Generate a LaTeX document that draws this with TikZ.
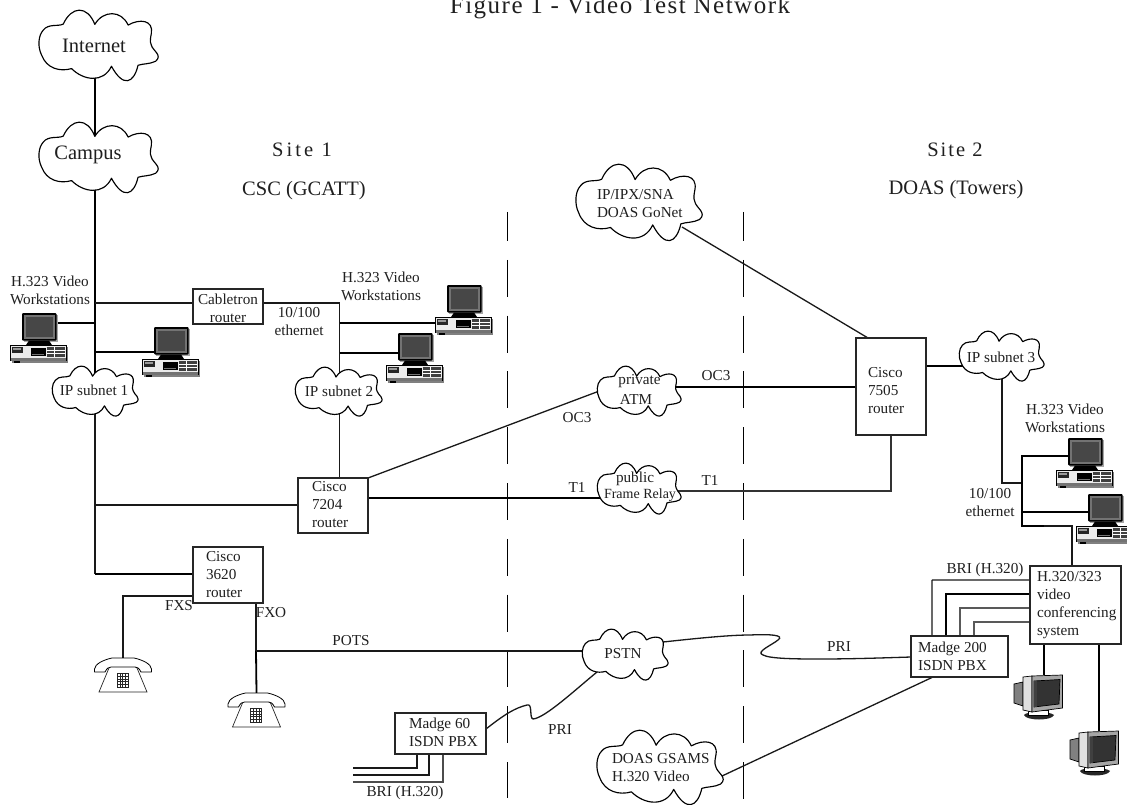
\documentclass[tikz,border=0pt]{standalone}
\usepackage{fontspec}
\setmainfont{Liberation Serif}
\pgfdeclarelayer{background}
\pgfsetlayers{background,main}
\tikzset{
  lab/.style={inner sep=0pt,outer sep=0pt,align=left,font=\fontsize{15.2}{18}\selectfont,text=black!88},
  biglab/.style={lab,font=\fontsize{20.5}{24}\selectfont},
  netbox/.style={draw=black!85,line width=1.3pt,fill=white,inner sep=0pt,outer sep=0pt},
  ghost/.style={inner sep=0pt,outer sep=0pt},
  cloudline/.style={draw=black,line width=1.15pt,fill=white,line join=round},
  tk/.style={line width=1.8pt,draw=black},
  md/.style={line width=1.3pt,draw=black!90},
  tn/.style={line width=1.05pt,draw=black!80},
  sitedash/.style={line width=1pt,draw=black,dash pattern=on 37pt off 18.8pt,dash phase=8pt},
  pics/workstation/.style={code={
    \node[ghost,minimum width=35pt,minimum height=28pt] (-mon) at (17.5,14) {};
    \fill[black!35] (2,2) rectangle (36,29);
    \fill[black,rounded corners=1pt] (0,0) rectangle (34.5,27.5);
    \fill[black!55] (1.5,1.5) rectangle (33,26);
    \fill[black!72] (3.5,3.5) rectangle (31,24);
    \fill[black] (7,27.5) -- (27,27.5) -- (30,32) -- (4,32) -- cycle;
    \fill[black!50] (-10,34) rectangle (45.5,50);
    \fill[black!8,draw=black,line width=.5pt] (-11.5,32.5) rectangle (44,47.5);
    \fill[black!85] (-10.5,33.5) rectangle (1,40);
    \fill[black!40] (-9,35) rectangle (-1,37);
    \fill[black] (9,35) rectangle (23.5,43);
    \fill[black!55] (10,41) rectangle (22,42);
    \fill[black!75] (25,33.5) rectangle (43,44);
    \draw[white,line width=.5pt] (25,37) -- (43,37) (25,40.5) -- (43,40.5) (32,33.5) -- (32,44);
    \fill[black!55] (-11.5,44.5) rectangle (44,47.5);
    \fill[black] (-8,47.5) rectangle (-2,50);
  }},
  pics/crt/.style={code={
    \node[ghost,minimum width=49pt,minimum height=45pt] (-mon) at (24.5,22) {};
    \fill[black!85] (10,40) .. controls (12,36) and (36,36) .. (40,40) .. controls (38,46) and (12,46) .. (10,40) -- cycle;
    \fill[white,draw=black,line width=.4pt] (14,35) rectangle (34,40);
    \fill[black!50,draw=black,line width=.7pt] (0,9) -- (9,7) -- (9,31) -- (0,28) -- cycle;
    \fill[black!12,draw=black,line width=.7pt] (9,2) -- (18,1) -- (18,37) -- (9,35) -- cycle;
    \fill[black!35,draw=black,line width=.7pt] (18,1) -- (48.5,0) -- (48.5,33) -- (18,37) -- cycle;
    \fill[black!80,draw=black,line width=.7pt] (20,6) -- (46,4.5) -- (45,29) -- (20,32) -- cycle;
    \fill[black!75] (20,6) rectangle (23,32);
  }},
  pics/telephone/.style={code={
    \node[ghost,minimum width=56pt,minimum height=34pt] (-set) at (0,17) {};
    \draw[line width=.7pt,draw=black!85] (-14,10) -- (-24,34) -- (24,34) -- (14,10);
    \draw[line width=.8pt,draw=black,fill=white,line join=round] (-11,0) -- (11,0) .. controls (20,2) and (28,6) .. (28.5,11) -- (28.5,14) -- (18,14) .. controls (16,10) and (14,9) .. (12,9) -- (-12,9) .. controls (-14,9) and (-16,10) .. (-18,14) -- (-28.5,14) -- (-28.5,11) .. controls (-28,6) and (-20,2) .. (-11,0) -- cycle;
    \draw[line width=.55pt,draw=black!85,fill=white] (-6,15.5) rectangle (5.2,29);
    \foreach \gx in {-3.2,-.4,2.4}{\draw[line width=.55pt,draw=black!85] (\gx,15.5) -- (\gx,29);}
    \foreach \gy in {18.2,20.9,23.6,26.3}{\draw[line width=.55pt,draw=black!85] (-6,\gy) -- (5.2,\gy);}
  }}
}
\newcommand{\netcloud}[5]{%
  \pgfmathsetmacro{\cxs}{#4/355}\pgfmathsetmacro{\cys}{#5/215}%
  \begin{scope}[shift={(#2,#3)},xscale=\cxs,yscale=\cys,shift={(-120,-30)}]
    \path[cloudline] (190,72) .. controls (215,18) and (262,15) .. (285,73)
      .. controls (310,30) and (365,30) .. (385,75)
      .. controls (420,55) and (462,60) .. (455,100)
      .. controls (450,125) and (452,130) .. (455,135)
      .. controls (458,150) and (490,165) .. (468,183)
      .. controls (450,192) and (430,190) .. (415,195)
      .. controls (402,250) and (370,262) .. (335,198)
      .. controls (310,250) and (250,240) .. (215,205)
      .. controls (180,215) and (140,205) .. (125,165)
      .. controls (112,140) and (115,105) .. (130,90)
      .. controls (145,70) and (175,80) .. (190,72) -- cycle;
  \end{scope}
  \node[ghost,minimum width={(#4)*1pt},minimum height={(#5)*1pt}] (#1) at ({#2+(#4)/2},{#3+(#5)/2}) {};%
}
\newcommand{\netbox}[5]{%
  \node[netbox,minimum width={(#4-#2)*1pt},minimum height={(#5-#3)*1pt}] (#1) at ({(#2+#4)/2},{(#3+#5)/2}) {};%
}
\begin{document}
\begin{tikzpicture}[x=1pt,y=-1pt]
\useasboundingbox (0,0) rectangle (1127,805);
% ---- nodes: clouds
\netcloud{internet}{40}{10}{118}{72}
\netcloud{campus}{40}{122}{118}{72}
\netcloud{ipone}{53}{366}{85}{51}
\netcloud{iptwo}{296}{367}{86}{50}
\netcloud{ipthree}{960}{331}{84}{51}
\netcloud{gonet}{577}{164}{125}{78}
\netcloud{atm}{598}{366}{83}{51}
\netcloud{frame}{598}{463}{83}{52}
\netcloud{pstn}{583}{629}{85}{52}
\netcloud{gsams}{598}{730}{125}{76}
% ---- nodes: boxes
\netbox{cabletron}{193}{289}{263}{324}
\netbox{ciscoa}{298}{478}{368}{533}
\netbox{ciscob}{193}{547}{263}{603}
\netbox{ciscoc}{856}{338}{926}{435}
\netbox{madgea}{395}{713}{486}{754}
\netbox{madgeb}{911}{636}{1008}{677}
\netbox{vcs}{1030}{566}{1121}{644}
% ---- equipment icons
\pic (wsa) at (22,313) {workstation};
\pic (wsb) at (154,327) {workstation};
\pic (wsc) at (447,285) {workstation};
\pic (wsd) at (398,333) {workstation};
\pic (wse) at (1068,438) {workstation};
\pic (wsf) at (1088,494) {workstation};
\pic (crta) at (1014,675) {crt};
\pic (crtb) at (1070,731) {crt};
\pic (phonea) at (123,658) {telephone};
\pic (phoneb) at (256.5,693) {telephone};
% ---- free ends and junctions
\coordinate (trunk) at (95,0);
\coordinate (eth) at (339.5,0);
\coordinate (ethr) at (1022,0);
\coordinate (sa) at (507,212);
\coordinate (sb) at (507,798);
\coordinate (sc) at (743,212);
\coordinate (sd) at (743,805);
\coordinate (brione) at (353,768);
\coordinate (britwo) at (353,775);
\coordinate (brithree) at (353,782);
\coordinate (pstnE) at (663,642);
\coordinate (pstnS) at (597,672);
\coordinate (madgeaE) at (486,729);
\coordinate (gsamsE) at (722,776);
\coordinate (gonetE) at (682,227);
% ---- connectors
\begin{pgfonlayer}{background}
\draw[sitedash] (sa) -- (sb);
\draw[sitedash] (sc) -- (sd);
\draw[tk] (trunk |- internet.center) -- (trunk |- campus.center);
\draw[tk] (trunk |- campus.center) -- (trunk |- ipone.center);
\draw[md] (trunk |- ipone.center) -- (trunk |- 0,574);
\draw[md] (trunk |- 0,303) -- (cabletron.west |- 0,303);
\draw[tk] (wsa-mon.east |- 0,323) -- (trunk |- 0,323);
\draw[tk] (trunk |- 0,352) -- (wsb-mon.west |- 0,352);
\draw[md] (trunk |- 0,505) -- (ciscoa.west |- 0,505);
\draw[tk] (trunk |- 0,574) -- (ciscob.west |- 0,574);
\draw[md] (cabletron.east |- 0,303) -- (eth |- 0,303) -- (eth |- iptwo.center);
\draw[tk] (eth |- 0,323) -- (wsc-mon.west |- 0,323) -- ++(10,0);
\draw[tk] (eth |- 0,353) -- (wsd-mon.west |- 0,353);
\draw[md] (eth |- iptwo.center) -- (eth |- ciscoa.north);
\draw[md] (ciscoa.north east) -- (atm.center -| 598,396);
\draw[tk] (ciscoa.east |- 0,498) -- (frame.center |- 0,498);
\draw[tn] (frame.center |- 0,491) -- (891,491) -- (891,0 |- ciscoc.south);
\draw[tk] (atm.center |- 0,387) -- (ciscoc.west |- 0,387);
\draw[md] (gonetE) -- (868,0 |- ciscoc.north);
\draw[tk] (ciscoc.east |- 0,366) -- (ipthree.center |- 0,366);
\draw[md] (1002,0 |- ipthree.center) -- (1002,483) -- (ethr |- 0,483);
\draw[tk] (wse-mon.west |- 0,456) -- (ethr |- 0,456) -- (ethr |- 0,526) -- (1044,526);
\draw[md] (1044,526) -- (1072,526) -- (1072,0 |- vcs.north);
\draw[tk] (ethr |- 0,512) -- (wsf-mon.west |- 0,512);
\draw[md] (ciscob.west |- 0,596) -- (phonea-set.north |- 0,596) -- (phonea-set.north);
\draw[md] (256,0 |- ciscob.south) -- (256,651);
\draw[tk] (256,651) -- (phoneb-set.north);
\draw[md] (256,651) -- (pstn.center |- 0,651);
\draw[md,rounded corners=.5pt] (vcs.west |- 0,580) -- (932,580) -- (932,0 |- madgeb.north);
\draw[tk,line width=1.4pt] (vcs.west |- 0,594) -- (946,594) -- (946,0 |- madgeb.north);
\draw[tn,draw=black!65] (vcs.west |- 0,608) -- (960,608) -- (960,0 |- madgeb.north);
\draw[tn,draw=black!65] (vcs.west |- 0,622) -- (974,622) -- (974,0 |- madgeb.north);
\draw[tk] (1044,0 |- vcs.south) -- (1044,0 |- crta-mon.north);
\draw[tk] (1099,0 |- vcs.south) -- (1099,0 |- crtb-mon.north);
\draw[md] (417,0 |- madgea.south) -- (417,768) -- (brione);
\draw[md] (429,0 |- madgea.south) -- (429,775) -- (britwo);
\draw[md,draw=black!70] (443,0 |- madgea.south) -- (443,782) -- (brithree);
\draw[md] (pstnE) .. controls (700,638) and (730,635) .. (750,635) .. controls (770,634) and (785,635) .. (778,640) .. controls (772,645) and (755,652) .. (763,655) .. controls (770,659) and (800,659) .. (820,659) .. controls (850,659) and (880,658) .. (madgeb.west |- 0,657);
\draw[md] (madgeaE) .. controls (505,714) and (515,708) .. (527,705) .. controls (533,703) and (529,718) .. (533,719) .. controls (545,718) and (575,690) .. (pstnS);
\draw[md] (gsamsE) -- (933,0 |- madgeb.south);
\end{pgfonlayer}
% ---- texts
\node[biglab,anchor=base,font=\fontsize{25}{28}\selectfont\addfontfeature{LetterSpace=6}] (title) at (620,14) {Figure 1 - Video Test Network};
\node[biglab,font=\fontsize{20.5}{24}\selectfont\addfontfeature{LetterSpace=15}] (sitea) at (302,150) {Site 1};
\node[biglab] (csc) at (304,191) {CSC (GCATT)};
\node[biglab,font=\fontsize{20.5}{24}\selectfont\addfontfeature{LetterSpace=10}] (siteb) at (955,150) {Site 2};
\node[biglab] (doas) at (956,190) {DOAS (Towers)};
\node[lab,font=\fontsize{20.5}{24}\selectfont] (internett) at (94,46) {Internet};
\node[lab,font=\fontsize{20.5}{24}\selectfont] (campust) at (88,155) {Campus};
\node[lab] (ipa) at (94,390) {IP subnet 1};
\node[lab] (ipb) at (339,391) {IP subnet 2};
\node[lab] (ipc) at (1001,357) {IP subnet 3};
\node[lab,align=center] (wta) at (50,290) {H.323 Video\\Workstations};
\node[lab,align=center] (wtb) at (381,286) {H.323 Video\\Workstations};
\node[lab,align=center] (wtc) at (1065,418) {H.323 Video\\Workstations};
\node[lab,align=center] (cabt) at (228,308) {Cabletron\\router};
\node[lab,align=center] (etha) at (299,322) {10/100\\ethernet};
\node[lab,align=center] (ethb) at (990,503) {10/100\\ethernet};
\node[lab,anchor=west] (ca) at (312,505) {Cisco\\7204\\router};
\node[lab,anchor=west] (cb) at (206,575) {Cisco\\3620\\router};
\node[lab,anchor=west] (cc) at (868,391) {Cisco\\7505\\router};
\node[lab,anchor=west] (gon) at (597,204) {IP/IPX/SNA\\DOAS GoNet};
\node[lab] (priv) at (639.5,381) {private};
\node[lab] (atmt) at (636,399) {ATM};
\node[lab] (pub) at (635,479) {public};
\node[lab,font=\fontsize{14}{17}\selectfont] (frt) at (640,495) {Frame Relay};
\node[lab] (ocl) at (577,418) {OC3};
\node[lab] (ocr) at (716,376) {OC3};
\node[lab] (tl) at (577,487) {T1};
\node[lab] (tr) at (710,480) {T1};
\node[lab] (fxs) at (179,606) {FXS};
\node[lab] (fxo) at (271,613) {FXO};
\node[lab] (pots) at (351,641) {POTS};
\node[lab] (pst) at (623,654) {PSTN};
\node[lab] (pria) at (560,730) {PRI};
\node[lab] (prib) at (839,647) {PRI};
\node[lab,anchor=west] (mgat) at (409,732) {Madge 60\\ISDN PBX};
\node[lab,anchor=west] (mgbt) at (918,656) {Madge 200\\ISDN PBX};
\node[lab] (bria) at (405,793) {BRI (H.320)};
\node[lab] (brib) at (985,570) {BRI (H.320)};
\node[lab,anchor=west] (vct) at (1037,605) {H.320/323\\video\\conferencing\\system};
\node[lab,anchor=west] (gst) at (612,768) {DOAS GSAMS\\H.320 Video};
\end{tikzpicture}
\end{document}
